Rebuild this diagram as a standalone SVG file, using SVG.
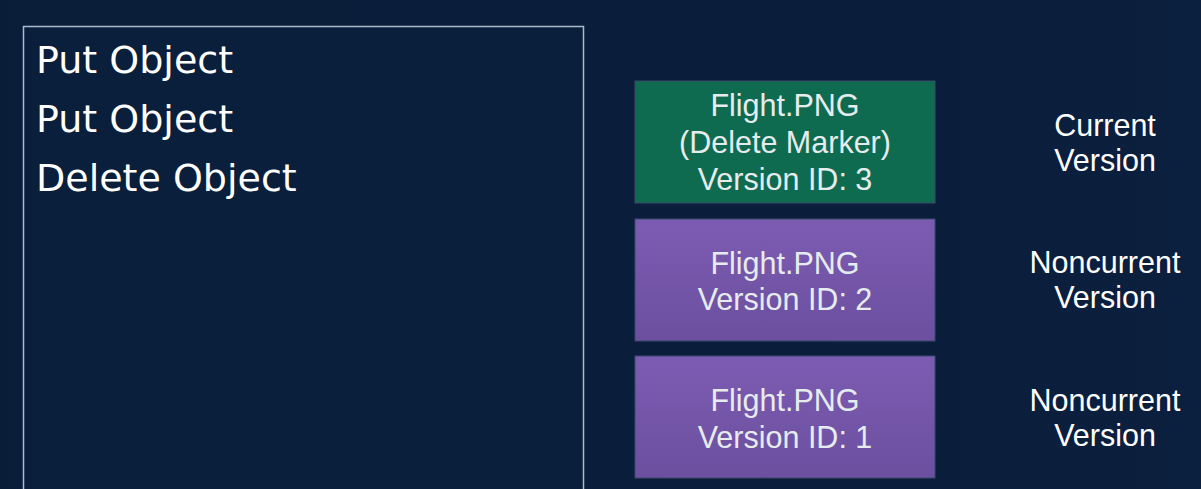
<svg xmlns="http://www.w3.org/2000/svg" width="1201" height="489" viewBox="0 0 1201 489">
<defs>
<linearGradient id="pg" x1="0" y1="0" x2="0" y2="1"><stop offset="0" stop-color="#7c5cb2"/><stop offset="1" stop-color="#6c4f9f"/></linearGradient>
<linearGradient id="bg" x1="0" y1="0" x2="1" y2="0"><stop offset="0" stop-color="#0a1d38"/><stop offset="1" stop-color="#0b1f3e"/></linearGradient>
</defs>
<style>
.op{font-family:"DejaVu Sans",sans-serif;font-size:38px;fill:#ffffff}
.bt{font-family:"Liberation Sans",Arial,sans-serif;font-size:30.5px;fill:#e6ecee;text-anchor:middle}
.lb{font-family:"Liberation Sans",Arial,sans-serif;font-size:30.5px;fill:#ffffff;text-anchor:middle}
.box{stroke:#3a4a6a;stroke-width:1}
</style>
<rect width="1201" height="489" fill="url(#bg)"/>
<g id="ops">
<rect x="23.5" y="26.5" width="560" height="470" fill="#0a1f3b" stroke="#a8bccb" stroke-width="1.5"/>
<text class="op" x="36" y="73">Put Object</text>
<text class="op" x="36" y="132">Put Object</text>
<text class="op" x="36" y="191">Delete Object</text>
</g>
<g id="v3">
<rect class="box" x="635" y="81" width="300" height="122" fill="#0e6b50"/>
<text class="bt" x="785" y="116">Flight.PNG</text>
<text class="bt" x="785" y="153">(Delete Marker)</text>
<text class="bt" x="785" y="190">Version ID: 3</text>
</g>
<g id="v2">
<rect class="box" x="635" y="219" width="300" height="122" fill="url(#pg)"/>
<text class="bt" x="785" y="274">Flight.PNG</text>
<text class="bt" x="785" y="310">Version ID: 2</text>
</g>
<g id="v1">
<rect class="box" x="635" y="356" width="300" height="122" fill="url(#pg)"/>
<text class="bt" x="785" y="411" fill="#dde2e6">Flight.PNG</text>
<text class="bt" x="785" y="448" fill="#dde2e6">Version ID: 1</text>
</g>
<g id="labels">
<text class="lb" x="1105" y="136">Current</text>
<text class="lb" x="1105" y="171">Version</text>
<text class="lb" x="1105" y="273">Noncurrent</text>
<text class="lb" x="1105" y="308">Version</text>
<text class="lb" x="1105" y="411">Noncurrent</text>
<text class="lb" x="1105" y="446">Version</text>
</g>
<g id="connectors"></g>
</svg>
